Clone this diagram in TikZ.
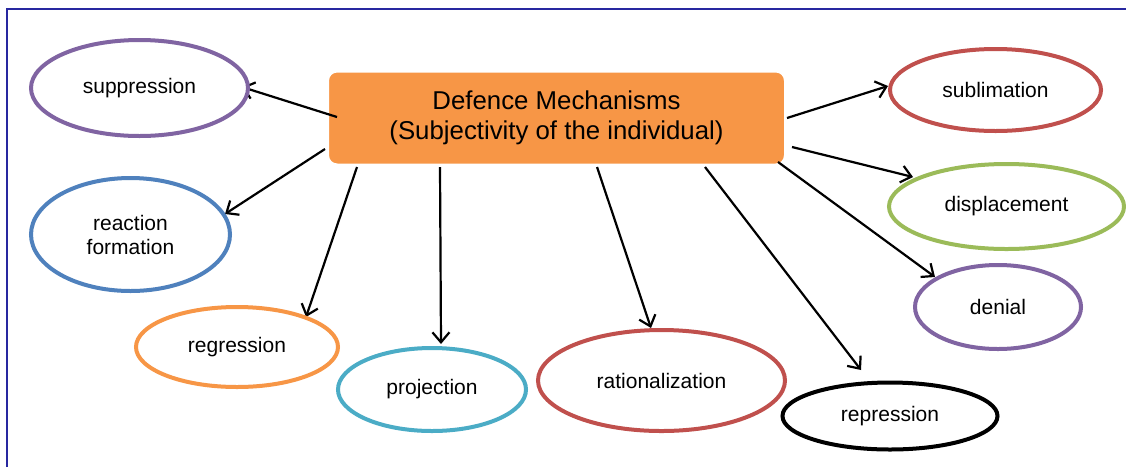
\documentclass[tikz,border=0pt]{standalone}
\usepackage{fontspec}
\setmainfont{Liberation Sans}
\usetikzlibrary{shapes.geometric,arrows.meta,shadows}
\definecolor{corange}{HTML}{F79646}
\definecolor{cpurple}{HTML}{8064A2}
\definecolor{cblue}{HTML}{4F81BD}
\definecolor{cteal}{HTML}{4BACC6}
\definecolor{cred}{HTML}{C0504D}
\definecolor{cgreen}{HTML}{9BBB59}
\definecolor{cframe}{RGB}{40,40,160}
\pgfdeclarelayer{back}
\pgfdeclarelayer{mid}
\pgfsetlayers{back,mid,main}
\begin{document}
\begin{tikzpicture}[x=1pt,y=-1pt,
  bubble/.style={ellipse, draw, line width=4pt, fill=white, inner sep=0pt, align=center,
    font=\fontsize{21}{24}\selectfont},
  link/.style={line width=2.2pt, -{Straight Barb[length=10pt,width=17pt]}},
  hub/.style={rectangle, rounded corners=12pt, fill=corange, draw=white, line width=8pt,
    minimum width=463pt, minimum height=99pt, align=center,
    font=\fontsize{25.8}{30}\selectfont,
    drop shadow={shadow xshift=2pt, shadow yshift=-3pt, fill=black, opacity=0.22}},
  frameline/.style={draw=cframe, line width=1.2pt}]
\useasboundingbox (0,0) rectangle (1126,467);
\draw[frameline] (7,467) -- (7,9) -- (1126,9);

\begin{pgfonlayer}{back}
\node[hub] (c) at (556.5,118) {Defence Mechanisms\\(Subjectivity of the individual)};
\end{pgfonlayer}

\node[bubble, draw=cpurple, minimum width=217pt, minimum height=96pt] (supp) at (139.5,88) {\raisebox{-3pt}{suppression}};
\node[bubble, draw=cblue, minimum width=199pt, minimum height=113pt] (react) at (130.5,234.5) {reaction\\formation};
\node[bubble, draw=corange, minimum width=202pt, minimum height=80pt] (regr) at (237,347) {regression};
\node[bubble, draw=cteal, minimum width=188pt, minimum height=83pt] (proj) at (432,389.5) {projection};
\node[bubble, draw=cred, minimum width=247pt, minimum height=101pt] (rat) at (661.5,380.5) {rationalization};
\node[bubble, draw=black, minimum width=215pt, minimum height=67pt] (rep) at (890,416) {\raisebox{4pt}{repression}};
\node[bubble, draw=cred, minimum width=211pt, minimum height=82pt] (subl) at (995.5,90) {sublimation};
\node[bubble, draw=cgreen, minimum width=235pt, minimum height=85pt] (disp) at (1006.5,206.5) {displacement};
\node[bubble, draw=cpurple, minimum width=166pt, minimum height=84pt] (den) at (998,307) {denial};

\begin{pgfonlayer}{mid}
\draw[link] ([shift={(-219.5,-1)}]c.center) -- ([shift={(102.5,-1)}]supp.center);
\draw[link] ([shift={(-231.5,31)}]c.center) -- ([shift={(94.5,-20.5)}]react.center);
\draw[link] ([shift={(-199.5,49)}]c.center) -- ([shift={(69,-30)}]regr.center);
\draw[link] ([shift={(-116.5,49)}]c.center) -- ([shift={(9,-45.5)}]proj.center);
\draw[link] ([shift={(40.5,49)}]c.center) -- ([shift={(-10.5,-52.5)}]rat.center);
\draw[link] ([shift={(148.5,49)}]c.center) -- ([shift={(-29,-46)}]rep.center);
\draw[link] ([shift={(230.5,0)}]c.center) -- ([shift={(-107.5,-4)}]subl.center);
\draw[link] ([shift={(235.5,29)}]c.center) -- ([shift={(-93.5,-29.5)}]disp.center);
\draw[link] ([shift={(221.5,44)}]c.center) -- ([shift={(-63,-30)}]den.center);
\end{pgfonlayer}
\end{tikzpicture}
\end{document}
